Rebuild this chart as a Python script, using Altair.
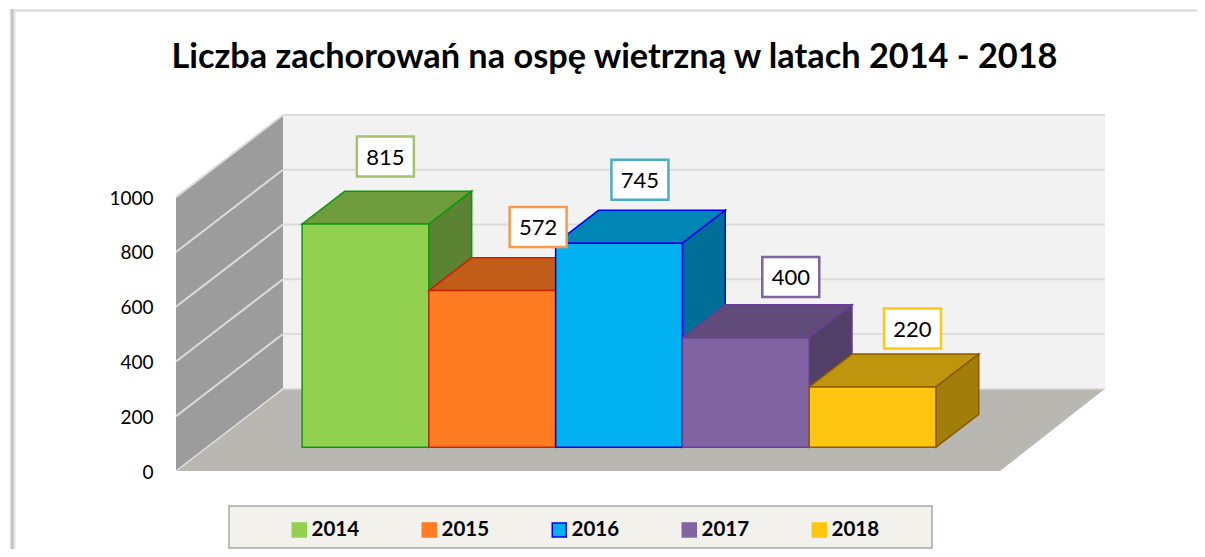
import altair as alt
import pandas as pd

# --- chart values ---
YEARS = ["2014", "2015", "2016", "2017", "2018"]
CASES = [815, 572, 745, 400, 220]
TICKS = [0, 200, 400, 600, 800, 1000]
TITLE = "Liczba zachorowań na ospę wietrzną w latach 2014 - 2018"

# --- styles ---
FRONT = ["#92d050", "#ff7c22", "#00b0f0", "#8064a2", "#ffc611"]
TOP = ["#6f9c3d", "#bf5d19", "#0086b5", "#604b7a", "#bf950d"]
SIDE = ["#5c8233", "#a04e15", "#006f98", "#523f68", "#a17d0a"]
EDGE = ["#0c9a0c", "#d02000", "#0000f0", "#6b3a9a", "#8c5a00"]
BOX = ["#a5c36b", "#f79a4e", "#4bacc6", "#8064a2", "#ffc90e"]
LEGEND_STROKE = ["#92d050", "#ff7c22", "#0000f0", "#8064a2", "#ffc611"]

# --- oblique projection, in scale units (slots on x, cases on y) ---
SLOTS = 6.5          # floor front width in bar slots
SLOTS_BACK = 6.484   # floor back width in bar slots
MARGIN = 0.75        # empty slots left of the first bar
DX, DY = 0.844, 300  # full depth of the box
D0, D1 = 0.29, 0.69  # depth of bar front / back
XMAX = SLOTS + DX
YMAX = 1000 + DY

xs = alt.Scale(domain=[0, XMAX], nice=False, zero=False)
ys = alt.Scale(domain=[0, YMAX], nice=False, zero=False)
yaxis = alt.Axis(values=TICKS, title=None, domain=False, ticks=False, grid=False, format="d",
                 labelFont="Lato", labelFontSize=19, labelColor="#000000", labelPadding=23, labelOffset=1)


def X(f="x"):
    return alt.X(f"{f}:Q", scale=xs, axis=None)


def Y(f="y"):
    return alt.Y(f"{f}:Q", scale=ys, axis=yaxis)


def vface(rows, fill, stroke=None, sw=1.5, **kw):
    """area with vertical end edges"""
    m = {"fill": fill, "interpolate": "linear", "opacity": 1}
    if stroke:
        m.update(stroke=stroke, strokeWidth=sw)
    return alt.Chart(pd.DataFrame(rows)).mark_area(**m).encode(x=X(), y=Y(), y2="y2:Q")


def hface(rows, fill, stroke=None, sw=1.5):
    """area with horizontal end edges"""
    m = {"fill": fill, "orient": "horizontal", "opacity": 1}
    if stroke:
        m.update(stroke=stroke, strokeWidth=sw)
    return alt.Chart(pd.DataFrame(rows)).mark_area(**m).encode(y=Y(), x=X(), x2="x2:Q")


def seg(rows, color, sw=2):
    return (alt.Chart(pd.DataFrame(rows)).mark_line(color=color, strokeWidth=sw)
            .encode(x=X(), y=Y(), detail="k:N", order="o:Q"))


layers = []

# page frame, outside the plot
def vr(px, color, w):
    return alt.Chart(pd.DataFrame({"a": [0]})).mark_rule(color=color, strokeWidth=w).encode(
        x=alt.value(px), y=alt.value(-106), y2=alt.value(437))


def hr(py, color, w, x0=-166):
    return alt.Chart(pd.DataFrame({"a": [0]})).mark_rule(color=color, strokeWidth=w).encode(
        y=alt.value(py), x=alt.value(x0), x2=alt.value(1021))


layers += [hr(-104.5, "#dcdcdc", 2.5), vr(-165.5, "#dedede", 1.5), vr(-163.5, "#bdbdbd", 2.5),
           vr(-161.5, "#e4e4e4", 2)]

# walls and floor
layers.append(alt.Chart(pd.DataFrame({"x": [DX], "x2": [DX + SLOTS_BACK], "y": [DY], "y2": [YMAX]}))
              .mark_rect(fill="#f2f2f2").encode(x=X(), x2="x2:Q", y=Y(), y2="y2:Q"))
layers.append(vface([{"x": 0, "y": 0, "y2": 1000}, {"x": DX, "y": DY, "y2": YMAX}], "#9c9c9c"))
layers.append(hface([{"y": 0, "x": 0, "x2": SLOTS}, {"y": DY, "x": DX, "x2": DX + SLOTS_BACK}], "#b8b7b1"))

rows = []
for n, t in enumerate(TICKS[1:]):
    rows += [{"k": n, "o": 0, "x": 0, "y": t}, {"k": n, "o": 1, "x": DX, "y": t + DY}]
layers.append(seg(rows, "#dcdcdc"))
rows = []
for n, t in enumerate(TICKS[1:]):
    rows += [{"k": n, "o": 0, "x": DX, "y": t + DY}, {"k": n, "o": 1, "x": DX + SLOTS_BACK, "y": t + DY}]
layers.append(seg(rows, "#dcdcdc"))
layers.append(seg([{"k": 0, "o": 0, "x": 0, "y": 0}, {"k": 0, "o": 1, "x": DX, "y": DY},
                   {"k": 0, "o": 2, "x": DX + SLOTS_BACK, "y": DY}], "#e2e2e2", 1.5))

# legend source (hidden behind the bar fronts)
legend_df = pd.DataFrame({
    "year": YEARS,
    "x": [MARGIN + i + 0.5 + D0 * DX for i in range(5)],
    "y": [D0 * DY + 20] * 5,
})
legend = alt.Legend(title=None, orient="none", direction="horizontal", columns=5,
                    legendX=113, legendY=404.5, padding=0, columnPadding=59,
                    symbolType="square", symbolSize=196, symbolStrokeWidth=1.5, symbolOpacity=1,
                    labelFont="Lato", labelFontSize=20.5, labelFontWeight="bold",
                    labelColor="#000000", labelOffset=2)
layers.append(alt.Chart(legend_df).mark_square(size=4, opacity=1).encode(
    x=X(), y=Y(),
    fill=alt.Fill("year:N", scale=alt.Scale(domain=YEARS, range=FRONT), legend=legend),
    stroke=alt.Stroke("year:N", scale=alt.Scale(domain=YEARS, range=LEGEND_STROKE), legend=legend),
))

# bars, left to right
for i, v in enumerate(CASES):
    L = MARGIN + i + D0 * DX
    R = L + 1
    ddx = (D1 - D0) * DX
    b0 = D0 * DY
    b1 = D1 * DY
    layers.append(hface([{"y": b0 + v, "x": L, "x2": R}, {"y": b1 + v, "x": L + ddx, "x2": R + ddx}],
                        TOP[i], EDGE[i]))
    layers.append(vface([{"x": R, "y": b0 + v, "y2": b0}, {"x": R + ddx, "y": b1 + v, "y2": b1}],
                        SIDE[i], EDGE[i]))
    layers.append(alt.Chart(pd.DataFrame({"x": [L], "x2": [R], "y": [b0 + v], "y2": [b0]}))
                  .mark_rect(fill=FRONT[i], stroke=EDGE[i], strokeWidth=1.5)
                  .encode(x=X(), x2="x2:Q", y=Y(), y2="y2:Q"))

# data labels: boxes moved by hand in the source, offsets from the bar's top centre
LABEL_SHIFT_X = [-0.012, 0.193, -0.004, 0.186, 0.146]
LABEL_SHIFT_Y = [186, 172, 172, 161, 153]
BW, BH = 28.5 / 126.77, 20 / 0.27385
lab = pd.DataFrame({
    "v": CASES,
    "x": [MARGIN + i + 0.5 + (D0 + D1) / 2 * DX + s for i, s in enumerate(LABEL_SHIFT_X)],
    "y": [v + (D0 + D1) / 2 * DY + s for v, s in zip(CASES, LABEL_SHIFT_Y)],
    "box": BOX,
})
lab["x0"], lab["x1"] = lab.x - BW, lab.x + BW
lab["y0"], lab["y1"] = lab.y - BH, lab.y + BH
layers.append(alt.Chart(lab).mark_rect(fill="#ffffff", strokeWidth=2.5).encode(
    x=X("x0"), x2="x1:Q", y=Y("y0"), y2="y1:Q", stroke=alt.Stroke("box:N", scale=None, legend=None)))
layers.append(alt.Chart(lab).mark_text(font="Lato", fontSize=22, color="#000000", baseline="middle", dy=1).encode(
    x=X(), y=Y(), text="v:Q"))

# legend panel
panel = alt.Chart(pd.DataFrame({"a": [0]})).mark_rect(fill="#f2f1ec", stroke="#a8a8a4", strokeWidth=1.5).encode(
    x=alt.value(53), x2=alt.value(756), y=alt.value(391), y2=alt.value(433))
layers.append(panel)

# chart title
layers.append(alt.Chart(pd.DataFrame({"t": [TITLE]})).mark_text(
    font="Lato", fontSize=34.3, fontWeight="bold", color="#000000", align="center", baseline="alphabetic"
).encode(x=alt.value(438.5), y=alt.value(-47), text="t:N"))

chart = alt.layer(*layers).properties(
    width=931, height=356,
    padding={"left": 168, "top": 107, "right": 90, "bottom": 78},
    autosize=alt.AutoSizeParams(type="none"),
    background="#ffffff",
).configure_view(stroke=None).resolve_scale(fill="shared", stroke="shared")

chart.save("out.html", embed_options={"renderer": "svg", "actions": False})
